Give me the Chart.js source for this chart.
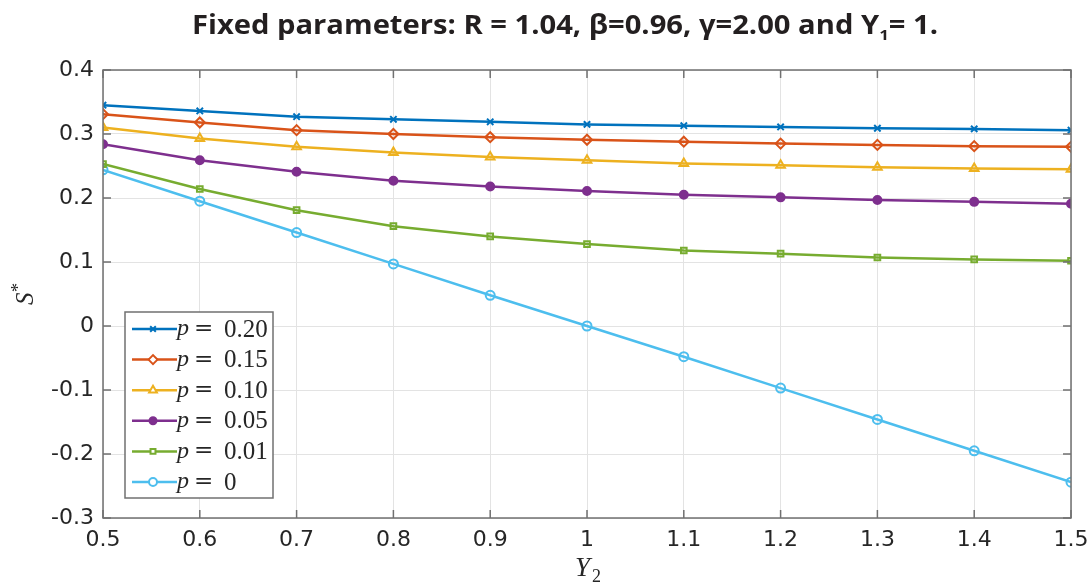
<!DOCTYPE html>
<html>
<head>
<meta charset="utf-8">
<script src="https://cdn.jsdelivr.net/npm/chart.js@4.4.1/dist/chart.umd.min.js"></script>
<style>
  body { margin: 0; background: #fff; }
  #wrap { width: 1092px; height: 584px; }
</style>
</head>
<body>
<div id="wrap"><canvas id="chart" width="1092" height="584"></canvas></div>
<script>
// values
const y2Values = [0.5, 0.6, 0.7, 0.8, 0.9, 1.0, 1.1, 1.2, 1.3, 1.4, 1.5];
const pLabels = ['0.20', '0.15', '0.10', '0.05', '0.01', '0'];
const s_p020 = [0.345, 0.336, 0.327, 0.323, 0.319, 0.315, 0.313, 0.311, 0.309, 0.308, 0.306];
const s_p015 = [0.331, 0.318, 0.306, 0.300, 0.295, 0.291, 0.288, 0.285, 0.283, 0.281, 0.280];
const s_p010 = [0.310, 0.293, 0.280, 0.271, 0.264, 0.259, 0.254, 0.251, 0.248, 0.246, 0.245];
const s_p005 = [0.284, 0.259, 0.241, 0.227, 0.218, 0.211, 0.205, 0.201, 0.197, 0.194, 0.191];
const s_p001 = [0.253, 0.214, 0.181, 0.156, 0.140, 0.128, 0.118, 0.113, 0.107, 0.104, 0.102];
const s_p000 = [0.244, 0.195, 0.146, 0.097, 0.048, 0.0, -0.048, -0.097, -0.146, -0.195, -0.244];
const yTicks = [-0.3, -0.2, -0.1, 0, 0.1, 0.2, 0.3, 0.4];

const seriesList = [s_p020, s_p015, s_p010, s_p005, s_p001, s_p000];
const colors = ['#0072BD', '#D95319', '#EDB120', '#7E2F8E', '#77AC30', '#4DBEEE'];
const markers = [
  { style: 'crossRot', radius: 4.5, fill: false },
  { style: 'rectRot', radius: 5, fill: false },
  { style: 'triangle', radius: 5, fill: false },
  { style: 'circle', radius: 4, fill: true },
  { style: 'rect', radius: 4, fill: false },
  { style: 'circle', radius: 4.5, fill: false },
];

function makeDataset(i) {
  return {
    label: 'p = ' + pLabels[i],
    data: y2Values.map((x, k) => ({ x: x, y: seriesList[i][k] })),
    borderColor: colors[i],
    backgroundColor: markers[i].fill ? colors[i] : 'rgba(255,255,255,0)',
    borderWidth: 2.5,
    pointStyle: markers[i].style,
    pointRadius: markers[i].radius,
    pointBorderWidth: 2,
    pointBorderColor: colors[i],
    pointBackgroundColor: markers[i].fill ? colors[i] : 'rgba(255,255,255,0)',
    tension: 0,
  };
}

const frameColor = '#707070';
const textColor = '#262626';

// title, axis titles, box frame with inward ticks, legend box
const decorPlugin = {
  id: 'decor',
  afterDraw(chart) {
    const ctx = chart.ctx;
    const ca = chart.chartArea;
    const xs = chart.scales.x, ys = chart.scales.y;
    ctx.save();

    // frame
    ctx.strokeStyle = frameColor;
    ctx.lineWidth = 1.5;
    ctx.strokeRect(ca.left, ca.top, ca.right - ca.left, ca.bottom - ca.top);
    const tl = 8;
    ctx.beginPath();
    y2Values.forEach(v => {
      const px = xs.getPixelForValue(v);
      ctx.moveTo(px, ca.bottom); ctx.lineTo(px, ca.bottom - tl);
      ctx.moveTo(px, ca.top); ctx.lineTo(px, ca.top + tl);
    });
    yTicks.forEach(v => {
      const py = ys.getPixelForValue(v);
      ctx.moveTo(ca.left, py); ctx.lineTo(ca.left + tl, py);
      ctx.moveTo(ca.right, py); ctx.lineTo(ca.right - tl, py);
    });
    ctx.stroke();

    // title (stretched a little to match the wide source font)
    ctx.fillStyle = '#231f20';
    ctx.textBaseline = 'alphabetic';
    ctx.textAlign = 'left';
    const part1 = 'Fixed parameters: R = 1.04, \u03B2=0.96, \u03B3=2.00 and Y';
    const sub = '1';
    const part2 = '= 1.';
    const bigFont = 'bold 26px "Open Sans"';
    const subFont = 'bold 15px "Open Sans"';
    ctx.font = bigFont;
    const w1 = ctx.measureText(part1).width;
    const w3 = ctx.measureText(part2).width;
    ctx.font = subFont;
    const w2 = ctx.measureText(sub).width;
    const total = w1 + w2 + w3;
    const sx = 746 / total;
    ctx.save();
    ctx.translate(565 - 746 / 2, 34);
    ctx.scale(sx, 1);
    let tx = 0;
    ctx.font = bigFont;
    ctx.fillText(part1, tx, 0);
    tx += w1;
    ctx.font = subFont;
    ctx.fillText(sub, tx, 6);
    tx += w2;
    ctx.font = bigFont;
    ctx.fillText(part2, tx, 0);
    ctx.restore();

    // x axis title: Y_2
    ctx.fillStyle = textColor;
    ctx.font = 'italic 27px "Liberation Serif"';
    const cx = (ca.left + ca.right) / 2;
    ctx.fillText('Y', cx - 12, 576);
    ctx.font = '18px "Liberation Serif"';
    ctx.fillText('2', cx + 5, 582);

    // y axis title: S*
    ctx.save();
    ctx.translate(33, 296);
    ctx.rotate(-Math.PI / 2);
    ctx.font = 'italic 25px "Liberation Serif"';
    ctx.fillText('S', -9, 0);
    ctx.font = '18px "Liberation Serif"';
    ctx.fillText('*', 4, -9);
    ctx.restore();

    // legend
    const bx = ca.left + 22, by = ca.bottom - 206, bw = 148, bh = 186;
    ctx.fillStyle = '#fff';
    ctx.fillRect(bx, by, bw, bh);
    ctx.strokeStyle = frameColor;
    ctx.lineWidth = 1.5;
    ctx.strokeRect(bx, by, bw, bh);
    chart.data.datasets.forEach((ds, i) => {
      const ry = by + 17 + i * 30.6;
      ctx.strokeStyle = colors[i];
      ctx.lineWidth = 2.5;
      ctx.beginPath();
      ctx.moveTo(bx + 7, ry);
      ctx.lineTo(bx + 52, ry);
      ctx.stroke();
      ctx.fillStyle = markers[i].fill ? colors[i] : '#fff';
      ctx.lineWidth = 2;
      Chart.helpers.drawPoint(ctx, {
        pointStyle: markers[i].style, radius: markers[i].radius - 0.5, rotation: 0, borderWidth: 2
      }, bx + 28, ry);
      ctx.fillStyle = textColor;
      ctx.textBaseline = 'middle';
      ctx.font = 'italic 24px "Liberation Serif"';
      ctx.fillText('p', bx + 52, ry);
      ctx.font = '23px "DejaVu Serif"';
      ctx.fillText('=', bx + 69, ry);
      ctx.font = '25px "Liberation Serif"';
      ctx.fillText(pLabels[i], bx + 99, ry + 1);
    });
    ctx.restore();
  }
};

const tickFont = { family: '"DejaVu Sans"', size: 22 };

new Chart(document.getElementById('chart'), {
  type: 'line',
  data: { datasets: seriesList.map((s, i) => makeDataset(i)) },
  options: {
    responsive: false,
    animation: false,
    layout: { padding: { top: 70, right: 21, left: 0, bottom: 0 } },
    plugins: {
      legend: { display: false },
      title: { display: false },
      tooltip: { enabled: false },
    },
    scales: {
      x: {
        type: 'linear',
        min: 0.5,
        max: 1.5,
        ticks: {
          stepSize: 0.1,
          color: textColor,
          font: tickFont,
          padding: 9,
          maxRotation: 0,
          callback: v => String(Number(v.toFixed(1))),
        },
        grid: { color: '#e3e3e3', drawTicks: false, lineWidth: 1 },
        border: { display: false },
        afterFit(scale) {
          scale.height = 66;
          scale.paddingLeft = 0;
          scale.paddingRight = 0;
        },
      },
      y: {
        min: -0.3,
        max: 0.4,
        ticks: {
          stepSize: 0.1,
          color: textColor,
          font: tickFont,
          padding: 9,
          callback: v => String(Number(v.toFixed(1))),
        },
        grid: { color: '#e3e3e3', drawTicks: false, lineWidth: 1 },
        border: { display: false },
        afterFit(scale) { scale.width = 103; },
      },
    },
  },
  plugins: [decorPlugin],
});
</script>
</body>
</html>
